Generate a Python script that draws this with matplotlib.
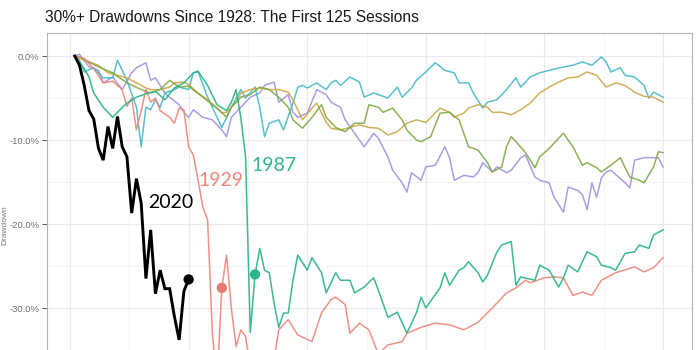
import matplotlib
matplotlib.use("Agg")
import matplotlib.pyplot as plt
from matplotlib.ticker import MultipleLocator, FuncFormatter

# ---------------- data (session number, % drawdown from peak) ----------------
title = "30%+ Drawdowns Since 1928: The First 125 Sessions"

s2020 = list(range(1, 26))
v2020 = [0, -1.1, -3.5, -6.5, -7.5, -11.0, -12.4, -8.4, -11.0, -7.2, -10.8, -12.0, -18.7,
         -14.6, -17.5, -26.5, -20.7, -28.3, -25.5, -27.7, -27.7, -31.0, -33.8, -28.0, -26.6]

s1929 = [1, 3, 5, 7, 9, 11, 12, 13, 14, 15, 16, 17, 18, 19, 21, 22, 23, 24, 25, 26, 27, 28, 29,
         30, 31, 32, 33, 34, 35, 36, 37, 38, 40, 42, 43, 44, 46, 48, 51, 53, 55, 56, 58, 59, 61,
         63, 65, 67, 70, 71, 74, 77, 80, 83, 86, 89, 92, 94, 96, 97, 100, 102, 104, 106, 108,
         110, 112, 115, 119, 121, 123, 125]
v1929 = [0, -0.3, -1.5, -3.2, -3.0, -4.0, -6.0, -5.0, -8.8, -6.5, -4.0, -5.5, -5.0, -6.5, -7.3,
         -8.0, -6.2, -6.4, -10.8, -11.8, -14.8, -18.0, -19.5, -33.0, -39.0, -27.6, -23.7, -30.0,
         -34.6, -32.6, -33.4, -37.0, -41.0, -39.0, -36.0, -32.6, -31.4, -33.2, -34.0, -30.6,
         -29.0, -28.7, -29.6, -33.0, -31.8, -32.6, -35.5, -34.4, -34.0, -33.0, -32.3, -31.8,
         -32.0, -32.6, -31.7, -30.0, -28.2, -27.6, -26.7, -27.0, -26.4, -26.3, -26.4, -28.5,
         -28.1, -28.5, -26.7, -25.8, -25.1, -25.7, -25.2, -24.0]

s1987 = [1, 3, 4, 5, 7, 8, 9, 10, 12, 14, 16, 18, 20, 22, 24, 26, 27, 29, 31, 33, 34, 35, 36, 37,
         38, 39, 40, 41, 42, 43, 44, 45, 46, 47, 48, 50, 51, 53, 54, 56, 57, 59, 60, 62, 64, 65,
         67, 69, 71, 73, 74, 75, 78, 79, 80, 82, 83, 84, 86, 87, 88, 90, 91, 93, 94, 95, 98, 99,
         101, 103, 104, 105, 107, 109, 111, 112, 114, 115, 117, 119, 120, 122, 123, 125]
v1987 = [0, -1.5, -2.5, -4.4, -6.1, -6.7, -7.3, -6.7, -5.6, -4.9, -4.5, -4.2, -5.2, -3.8, -3.2,
         -2.0, -1.8, -3.5, -5.8, -6.5, -5.5, -4.0, -7.3, -12.0, -32.9, -26.0, -22.9, -25.5,
         -25.8, -29.4, -32.3, -30.6, -30.6, -26.7, -23.7, -25.5, -24.0, -25.8, -28.2, -25.8,
         -26.7, -26.7, -28.2, -27.5, -26.4, -27.9, -31.1, -30.5, -33.0, -30.6, -28.7, -30.0,
         -27.6, -25.8, -27.3, -25.5, -25.2, -24.5, -25.8, -26.9, -26.1, -23.3, -22.5, -22.1,
         -27.3, -26.3, -26.7, -24.9, -25.5, -27.5, -26.4, -24.9, -25.7, -23.3, -23.9, -24.9,
         -25.2, -25.5, -23.5, -23.3, -22.5, -22.9, -21.3, -20.7]

s_cyan = [1, 2, 3, 5, 7, 9, 10, 12, 14, 15, 16, 17, 18, 19, 20, 22, 23, 25, 26, 27, 29, 31, 32,
          33, 34, 36, 37, 39, 40, 41, 42, 44, 45, 47, 48, 49, 50, 52, 54, 55, 56, 57, 59, 61, 62,
          64, 65, 67, 69, 70, 72, 73, 75, 77, 79, 81, 82, 84, 85, 87, 88, 90, 92, 94, 95, 97, 99,
          101, 104, 106, 108, 110, 112, 113, 114, 116, 117, 119, 121, 122, 123, 125]
v_cyan = [0, -0.5, -1.9, -1.4, -2.6, -2.6, -0.5, -2.9, -6.1, -10.8, -6.1, -6.4, -5.2, -6.1, -4.4,
          -4.0, -3.7, -4.0, -2.0, -1.9, -4.9, -7.3, -8.5, -7.3, -6.1, -4.0, -5.0, -3.7, -6.1,
          -9.6, -8.0, -7.6, -8.8, -5.6, -3.7, -3.5, -3.8, -3.2, -4.0, -3.2, -2.9, -3.5, -2.5,
          -3.1, -4.9, -4.4, -4.6, -5.0, -3.7, -4.9, -3.8, -2.9, -1.9, -0.8, -1.7, -2.0, -3.2,
          -3.2, -4.4, -6.2, -5.5, -5.2, -4.0, -2.6, -3.7, -2.5, -2.0, -1.7, -1.3, -1.1, -0.7,
          -1.1, -0.1, -0.7, -1.9, -1.4, -2.3, -2.5, -3.5, -5.0, -4.3, -4.9]

s_gold = [1, 3, 6, 8, 12, 14, 16, 17, 19, 21, 22, 24, 25, 27, 29, 31, 32, 33, 35, 36, 38, 40, 42,
          44, 46, 47, 48, 49, 51, 52, 54, 55, 57, 59, 61, 63, 65, 67, 69, 71, 73, 75, 78, 80, 81,
          83, 84, 86, 88, 89, 91, 93, 95, 97, 99, 101, 103, 105, 107, 109, 111, 113, 115, 117,
          119, 121, 123, 125]
v_gold = [0, -0.5, -1.1, -2.0, -2.6, -3.2, -3.8, -4.0, -4.0, -3.7, -3.2, -3.1, -3.4, -4.4, -5.2,
          -6.2, -6.8, -6.7, -5.5, -4.4, -4.0, -3.8, -4.0, -4.0, -4.3, -5.2, -6.4, -7.6, -6.2,
          -5.6, -7.9, -8.6, -8.8, -8.5, -8.2, -8.5, -8.6, -9.4, -9.0, -8.0, -7.6, -7.9, -6.2,
          -6.7, -7.3, -6.8, -6.2, -5.8, -6.1, -6.7, -6.7, -7.0, -6.4, -5.6, -4.4, -3.7, -3.1,
          -2.6, -2.5, -1.9, -2.3, -3.7, -3.2, -3.5, -4.3, -4.8, -4.9, -5.5]

s_green = [1, 2, 6, 9, 12, 15, 17, 19, 21, 23, 25, 28, 30, 32, 33, 34, 36, 38, 40, 42, 44, 46, 47,
           49, 51, 53, 54, 56, 58, 60, 62, 63, 65, 66, 68, 70, 71, 73, 74, 76, 78, 80, 82, 83, 84,
           86, 88, 89, 91, 92, 93, 94, 96, 98, 99, 101, 104, 106, 108, 109, 111, 112, 114, 116,
           117, 118, 120, 121, 123, 124, 125]
v_green = [0, -0.1, -1.3, -2.0, -3.2, -4.0, -4.4, -4.0, -2.9, -3.7, -3.6, -4.9, -5.8, -6.7, -7.3,
           -6.1, -4.9, -4.6, -3.7, -4.0, -4.9, -6.1, -7.6, -8.6, -7.3, -5.8, -7.3, -8.5, -9.0,
           -8.0, -8.0, -5.8, -6.1, -6.7, -6.2, -7.6, -8.8, -10.0, -10.2, -9.6, -6.8, -6.7, -7.6,
           -9.2, -10.8, -11.2, -12.7, -13.8, -13.2, -10.8, -9.6, -10.2, -11.5, -13.3, -12.0,
           -11.0, -9.2, -10.8, -13.0, -12.7, -13.3, -13.8, -13.0, -12.1, -13.3, -14.4, -14.8,
           -15.1, -13.2, -11.4, -11.5]

s_purple = [1, 2, 4, 6, 7, 9, 11, 13, 14, 16, 17, 18, 20, 21, 23, 24, 25, 26, 28, 30, 32, 33, 34,
            36, 38, 40, 41, 43, 44, 46, 47, 48, 50, 52, 54, 55, 57, 58, 60, 61, 62, 64, 65, 67,
            68, 70, 71, 72, 74, 75, 77, 79, 80, 81, 83, 85, 86, 87, 89, 90, 92, 93, 95, 96, 98,
            99, 101, 102, 104, 105, 107, 108, 109, 110, 111, 112, 113, 114, 117, 118, 119, 121,
            122, 124, 125]
v_purple = [0, 0.2, -1.3, -1.7, -3.2, -2.5, -4.0, -2.0, -1.4, -0.8, -2.9, -2.6, -4.4, -4.9, -5.8,
            -6.7, -7.3, -6.4, -7.3, -7.6, -8.8, -9.6, -7.3, -6.1, -4.9, -4.4, -3.5, -3.1, -5.5,
            -4.6, -6.7, -7.3, -6.8, -4.0, -4.6, -5.5, -6.1, -7.6, -9.2, -10.0, -10.8, -9.2, -9.8,
            -12.0, -13.6, -15.1, -16.2, -13.9, -14.8, -13.2, -13.0, -10.8, -12.1, -14.8, -14.2,
            -14.4, -13.9, -12.7, -13.8, -13.2, -13.9, -13.6, -12.1, -11.8, -14.4, -14.8, -15.1,
            -16.8, -18.6, -15.6, -16.0, -16.5, -18.3, -15.1, -16.8, -14.5, -13.8, -13.6, -15.1,
            -15.7, -12.4, -12.1, -12.1, -12.1, -13.2]

# end-point markers
dot_s = [25, 32, 39]
dot_v = [-26.6, -27.6, -26.0]

label_text = ["2020", "1929", "1987"]
label_s = [21.3, 31.8, 43.0]
label_v = [-17.4, -14.8, -13.0]

y_ticks = [0, -10, -20, -30]

# ---------------- styling ----------------
C1929 = "#EE857C"
C1987 = "#2FB58C"
CCYAN = "#46B9C8"
CGOLD = "#CBA848"
CGREEN = "#80AA45"
CPURPLE = "#A094E2"

plt.rcParams["font.family"] = ["Liberation Sans", "DejaVu Sans"]

fig = plt.figure(figsize=(7, 3.5), dpi=100)
fig.patch.set_facecolor("white")
ax = fig.add_axes([47 / 700, 0.0, (692 - 47) / 700, (350 - 33) / 350])

ax.set_xlim(-4.85, 131.1)
ax.set_ylim(-35.0, 2.74)

ax.xaxis.set_major_locator(MultipleLocator(25))
ax.xaxis.set_minor_locator(MultipleLocator(12.5))
ax.yaxis.set_major_locator(plt.FixedLocator(y_ticks))
ax.yaxis.set_minor_locator(MultipleLocator(5))
ax.grid(which="major", color="#EBEBEB", lw=0.9)
ax.grid(which="minor", color="#F2F2F2", lw=0.6)
ax.set_axisbelow(True)

ax.yaxis.set_major_formatter(FuncFormatter(lambda v, p: f"{v:.1f}%"))
ax.tick_params(axis="y", which="major", length=3.5, width=0.7, color="#555555",
               labelsize=6.8, labelcolor="#707070", pad=2)
ax.tick_params(axis="y", which="minor", length=0)
ax.tick_params(axis="x", which="both", bottom=False, labelbottom=False)

for side in ["top", "right", "left"]:
    ax.spines[side].set_color("#B5B5B5")
    ax.spines[side].set_linewidth(0.8)
ax.spines["bottom"].set_visible(False)

lw = 1.1
ax.plot(s_purple, v_purple, color=CPURPLE, lw=lw, alpha=0.9)
ax.plot(s_cyan, v_cyan, color=CCYAN, lw=lw, alpha=0.9)
ax.plot(s_gold, v_gold, color=CGOLD, lw=lw, alpha=0.9)
ax.plot(s_green, v_green, color=CGREEN, lw=lw, alpha=0.9)
ax.plot(s1929, v1929, color=C1929, lw=lw, alpha=0.9)
ax.plot(s1987, v1987, color=C1987, lw=lw, alpha=0.95)
ax.plot(s2020, v2020, color="black", lw=2.1, solid_joinstyle="miter")

ax.scatter(dot_s, dot_v, s=55, color=["black", "#E8776D", C1987], zorder=5, linewidths=0)

label_colors = ["black", C1929, C1987]
for t, x, y, c in zip(label_text, label_s, label_v, label_colors):
    ax.text(x, y, t, color=c, fontsize=14, family=["Lato", "DejaVu Sans"],
            ha="center", va="center")

fig.text(45 / 700, 1 - 17 / 350, title, fontsize=11.2, color="#1A1A1A",
         ha="left", va="center")
fig.text(5 / 700, 1 - 225 / 350, "Drawdown", rotation=90, fontsize=6,
         color="#777777", ha="center", va="center")

fig.savefig("out.png", dpi=100, facecolor="white")
